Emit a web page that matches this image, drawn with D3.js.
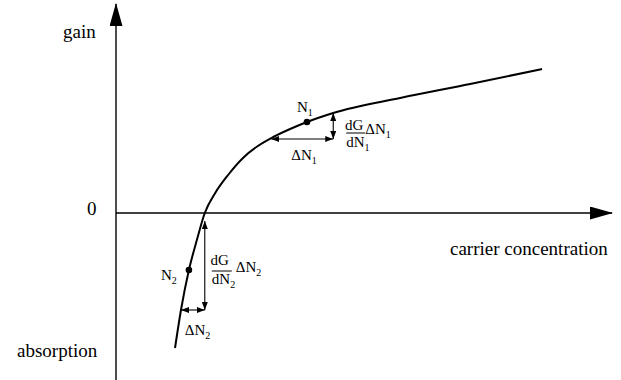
<!DOCTYPE html>
<html>
<head>
    <style>
        body { margin: 0; background: white; }
        svg { font-family: "Liberation Serif", "Times New Roman", serif; }
        .axis-line { stroke: black; stroke-width: 1.4px; fill: none; }
        .curve { stroke: black; stroke-width: 2px; fill: none; }
        .ann { stroke: black; stroke-width: 1.1px; fill: none; }
        .big { font-size: 19px; }
        .small { font-size: 15px; }
    </style>
    <script src="https://d3js.org/d3.v7.min.js"></script>
    <title>Gain vs carrier concentration</title>
</head>
<body>
    <div id="chart"></div>
</body>
</html>

<script>
    // gain curve (arbitrary units)
    var carrier = [1.19, 1.31, 1.47, 1.63, 1.79, 2.00, 2.26, 2.56, 2.86, 3.17, 3.51, 3.85, 4.38, 5.73, 7.14, 8.59];
    var gain    = [-2.70, -1.94, -1.14, -0.54, 0.00, 0.40, 0.76, 1.10, 1.34, 1.52, 1.68, 1.82, 2.00, 2.30, 2.58, 2.88];

    // operating points
    var pointNames = ["N1", "N2"];
    var pointX = [3.85, 1.47];
    var pointY = [1.82, -1.14];

    // delta arrows: horizontal from dnFrom to dnTo at height dnLevel, vertical at dnTo from dnLevel to dgTop
    var dnFrom  = [3.13, 1.31];
    var dnTo    = [4.38, 1.79];
    var dnLevel = [1.48, -1.94];
    var dgTop   = [2.00, -0.16];

    var axisLabels = { y: "gain", yNeg: "absorption", zero: "0", x: "carrier concentration" };
    var xMax = 10, yMin = -3.4, yMax = 4.18;

    var width = 621, height = 380;

    var x = d3.scaleLinear().domain([0, 10]).range([116, 612]);
    var y = d3.scaleLinear().domain([-3, 4]).range([363, 13]);

    var svg = d3.select("#chart").append("svg")
        .attr("width", width)
        .attr("height", height);

    var defs = svg.append("defs");
    defs.append("marker")
        .attr("id", "bigHead")
        .attr("viewBox", "0 0 23 13")
        .attr("markerWidth", 23).attr("markerHeight", 13)
        .attr("refX", 22).attr("refY", 6.5)
        .attr("markerUnits", "userSpaceOnUse")
        .attr("orient", "auto")
        .append("path").attr("d", "M0,0 L23,6.5 L0,13 Z").attr("fill", "black");

    defs.append("marker")
        .attr("id", "smallHead")
        .attr("viewBox", "0 0 8 6")
        .attr("markerWidth", 8).attr("markerHeight", 6)
        .attr("refX", 8).attr("refY", 3)
        .attr("markerUnits", "userSpaceOnUse")
        .attr("orient", "auto-start-reverse")
        .append("path").attr("d", "M0,0 L8,3 L0,6 Z").attr("fill", "black");

    // axes
    svg.append("line").attr("class", "axis-line")
        .attr("x1", x(0)).attr("y1", y(yMin))
        .attr("x2", x(0)).attr("y2", y(yMax))
        .attr("marker-end", "url(#bigHead)");

    svg.append("line").attr("class", "axis-line")
        .attr("x1", x(0)).attr("y1", y(0))
        .attr("x2", x(xMax)).attr("y2", y(0))
        .attr("marker-end", "url(#bigHead)");

    // curve
    var data = carrier.map(function (c, i) { return [c, gain[i]]; });
    var line = d3.line()
        .x(function (d) { return x(d[0]); })
        .y(function (d) { return y(d[1]); })
        .curve(d3.curveMonotoneX);

    svg.append("path").datum(data).attr("class", "curve").attr("d", line);

    // delta arrows
    pointNames.forEach(function (n, i) {
        svg.append("line").attr("class", "ann")
            .attr("x1", x(dnFrom[i])).attr("y1", y(dnLevel[i]))
            .attr("x2", x(dnTo[i])).attr("y2", y(dnLevel[i]))
            .attr("marker-start", "url(#smallHead)")
            .attr("marker-end", "url(#smallHead)");
        svg.append("line").attr("class", "ann")
            .attr("x1", x(dnTo[i])).attr("y1", y(dnLevel[i]))
            .attr("x2", x(dnTo[i])).attr("y2", y(dgTop[i]))
            .attr("marker-start", "url(#smallHead)")
            .attr("marker-end", "url(#smallHead)");
    });

    // points
    svg.selectAll(".pt").data(pointNames).enter().append("circle")
        .attr("class", "pt")
        .attr("cx", function (d, i) { return x(pointX[i]); })
        .attr("cy", function (d, i) { return y(pointY[i]); })
        .attr("r", 3.3)
        .attr("fill", "black");

    // text helper: main letters then a subscript
    function subText(xp, yp, main, sub, anchor) {
        var t = svg.append("text").attr("class", "small")
            .attr("x", xp).attr("y", yp)
            .attr("text-anchor", anchor || "start");
        t.append("tspan").text(main);
        if (sub) t.append("tspan").attr("font-size", "10px").attr("dy", 4).text(sub);
        return t;
    }

    // axis labels
    svg.append("text").attr("class", "big").attr("x", 63).attr("y", 38).text(axisLabels.y);
    svg.append("text").attr("class", "big").attr("x", 87).attr("y", y(0) + 2).text(axisLabels.zero);
    svg.append("text").attr("class", "big").attr("x", 17).attr("y", 357).text(axisLabels.yNeg);
    svg.append("text").attr("class", "big").attr("x", 450).attr("y", y(0) + 42).text(axisLabels.x);

    // N1 annotations
    var ax = x(dnTo[0]), ay = y(dnLevel[0]);
    subText(x(pointX[0]) - 10, y(pointY[0]) - 10, "N", "1");
    subText(ax - 42, ay + 21, "\u0394N", "1");
    subText(ax + 21, ay - 9, "dG", null, "middle");
    svg.append("line").attr("stroke", "black").attr("stroke-width", 1)
        .attr("x1", ax + 13).attr("x2", ax + 32).attr("y1", ay - 6).attr("y2", ay - 6);
    subText(ax + 13, ay + 8, "dN", "1");
    subText(ax + 32, ay - 5, "\u0394N", "1");

    // N2 annotations
    var bx = x(dnTo[1]), by = y(dnLevel[1]);
    subText(x(pointX[1]) - 28, y(pointY[1]) + 10, "N", "2");
    subText(bx - 20, by + 25, "\u0394N", "2");
    subText(bx + 15, y(0) + 52, "dG", null, "middle");
    svg.append("line").attr("stroke", "black").attr("stroke-width", 1)
        .attr("x1", bx + 7).attr("x2", bx + 27).attr("y1", y(0) + 58).attr("y2", y(0) + 58);
    subText(bx + 7, y(0) + 71, "dN", "2");
    subText(bx + 31, y(0) + 59, "\u0394N", "2");
</script>
